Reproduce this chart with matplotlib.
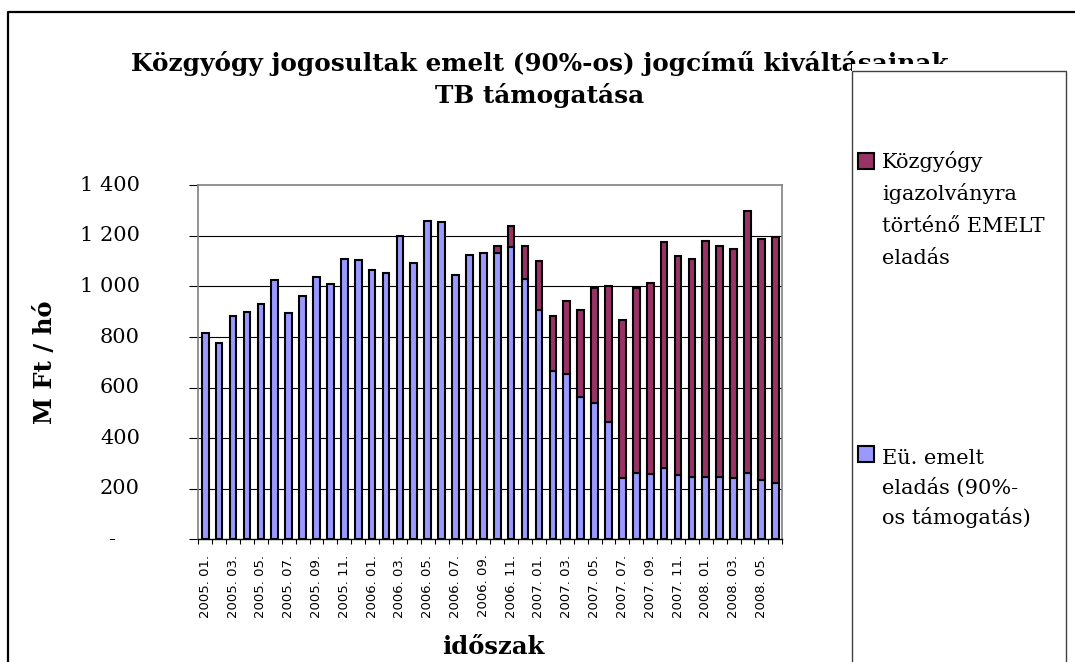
import matplotlib
matplotlib.use('Agg')
import matplotlib.pyplot as plt
import numpy as np
from matplotlib.patches import Rectangle
from matplotlib.lines import Line2D

W, H = 1075, 662

periods = ['2005. 01.', '2005. 02.', '2005. 03.', '2005. 04.', '2005. 05.', '2005. 06.',
           '2005. 07.', '2005. 08.', '2005. 09.', '2005. 10.', '2005. 11.', '2005. 12.',
           '2006. 01.', '2006. 02.', '2006. 03.', '2006. 04.', '2006. 05.', '2006. 06.',
           '2006. 07.', '2006. 08.', '2006. 09.', '2006. 10.', '2006. 11.', '2006. 12.',
           '2007. 01.', '2007. 02.', '2007. 03.', '2007. 04.', '2007. 05.', '2007. 06.',
           '2007. 07.', '2007. 08.', '2007. 09.', '2007. 10.', '2007. 11.', '2007. 12.',
           '2008. 01.', '2008. 02.', '2008. 03.', '2008. 04.', '2008. 05.', '2008. 06.']

# Eü. emelt eladás (90%-os támogatás), M Ft / hó
eu_emelt = [814, 777, 884, 897, 930, 1026, 893, 962, 1039, 1011, 1107, 1104,
            1065, 1053, 1198, 1094, 1260, 1254, 1047, 1123, 1134, 1133, 1157, 1029,
            905, 664, 652, 564, 538, 465, 244, 261, 258, 283, 254, 248,
            245, 245, 241, 263, 235, 224]

# Közgyógy igazolványra történő EMELT eladás, M Ft / hó
kozgyogy = [0, 0, 0, 0, 0, 0, 0, 0, 0, 0, 0, 0,
            0, 0, 0, 0, 0, 0, 0, 0, 0, 26, 83, 130,
            194, 219, 290, 342, 455, 536, 624, 734, 754, 891, 866, 859,
            935, 916, 908, 1035, 951, 970]

yticks = [0, 200, 400, 600, 800, 1000, 1200, 1400]
ytick_labels = ['-', '200', '400', '600', '800', '1 000', '1 200', '1 400']

title_lines = ['Közgyógy jogosultak emelt (90%-os) jogcímű kiváltásainak',
               'TB támogatása']
legend_kozgy = ['Közgyógy', 'igazolványra', 'történő EMELT', 'eladás']
legend_eu = ['Eü. emelt', 'eladás (90%-', 'os támogatás)']

BLUE = '#9999FF'
MAROON = '#993366'
SERIF = 'DejaVu Serif'


def fx(x):
    return x / W


def fy(y):
    return 1 - y / H


fig = plt.figure(figsize=(W / 100, H / 100), dpi=100)
ax = fig.add_axes([fx(198.3), fy(539.3), 584 / W, (539.3 - 185.3) / H])

x = np.arange(len(periods))
eu = np.array(eu_emelt)
kz = np.array(kozgyogy)

ax.bar(x, eu, width=0.48, color=BLUE, edgecolor='black', linewidth=1.5, zorder=3)
m = kz > 0
ax.bar(x[m], kz[m], bottom=eu[m], width=0.48, color=MAROON,
       edgecolor='black', linewidth=1.5, zorder=3)

ax.set_xlim(-0.5, len(periods) - 0.5)
ax.set_ylim(0, 1400)

for t in yticks[1:-1]:
    ax.axhline(t, color='black', linewidth=0.8, zorder=1)

ax.set_yticks(yticks)
ax.set_yticklabels([])
ax.tick_params(axis='y', length=6.5, width=0.8, color='black', direction='out')
for t, lab in zip(yticks, ytick_labels):
    if lab == '-':
        ax.text(-0.148, t, lab, transform=ax.get_yaxis_transform(), ha='center',
                va='center', fontsize=15, family=SERIF)
    else:
        ax.text(-0.0998, t, lab, transform=ax.get_yaxis_transform(), ha='right',
                va='center', fontsize=15, family=SERIF)

ax.set_xticks(x[::2])
ax.set_xticklabels(periods[::2], rotation=90, fontsize=9.5, family='DejaVu Sans')
ax.set_xticks(np.arange(-0.5, len(periods), 1), minor=True)
ax.tick_params(axis='x', which='major', length=0, pad=11)
ax.tick_params(axis='x', which='minor', length=3.6, width=0.8, color='black', direction='out')

for s in ['left', 'top', 'right']:
    ax.spines[s].set_color('#808080')
    ax.spines[s].set_linewidth(1.2)
ax.spines['bottom'].set_color('black')
ax.spines['bottom'].set_linewidth(1)

# axis titles
fig.text(fx(45), fy(362), 'M Ft / hó', rotation=90, ha='center', va='center',
         fontsize=17.5, fontweight='bold', family=SERIF)
fig.text(fx(493), fy(647), 'időszak', ha='center', va='center',
         fontsize=17.5, fontweight='bold', family=SERIF)

# chart title (its end is hidden by the legend box, like the original)
fig.text(fx(540), fy(71), title_lines[0], ha='center', va='baseline',
         fontsize=17.8, fontweight='bold', family=SERIF, zorder=1)
fig.text(fx(540), fy(103), title_lines[1], ha='center', va='baseline',
         fontsize=17.8, fontweight='bold', family=SERIF, zorder=1)

# white area of the legend that clips the title
fig.add_artist(Rectangle((fx(852), fy(72)), (1066 - 852) / W, 8 / H,
                         transform=fig.transFigure, facecolor='white',
                         edgecolor='none', zorder=4))
# legend box
fig.add_artist(Rectangle((fx(852), fy(720)), (1066 - 852) / W, (720 - 71) / H,
                         transform=fig.transFigure, facecolor='white',
                         edgecolor='#404040', linewidth=1, zorder=5))
for color, lines, sq_top, base0, step in [(MAROON, legend_kozgy, 153, 168, 32),
                                          (BLUE, legend_eu, 446, 464, 30)]:
    fig.add_artist(Rectangle((fx(858), fy(sq_top + 16)), 16 / W, 16 / H,
                             transform=fig.transFigure, facecolor=color,
                             edgecolor='black', linewidth=1.5, zorder=6))
    for k, line in enumerate(lines):
        fig.text(fx(882), fy(base0 + k * step), line, ha='left', va='baseline',
                 fontsize=15, family=SERIF, zorder=6)

# outer chart border
fig.add_artist(Line2D([fx(8), fx(8), fx(1100)], [fy(720), fy(12), fy(12)],
                      transform=fig.transFigure, color='black', linewidth=1.6))

fig.savefig('out.png', dpi=100)
